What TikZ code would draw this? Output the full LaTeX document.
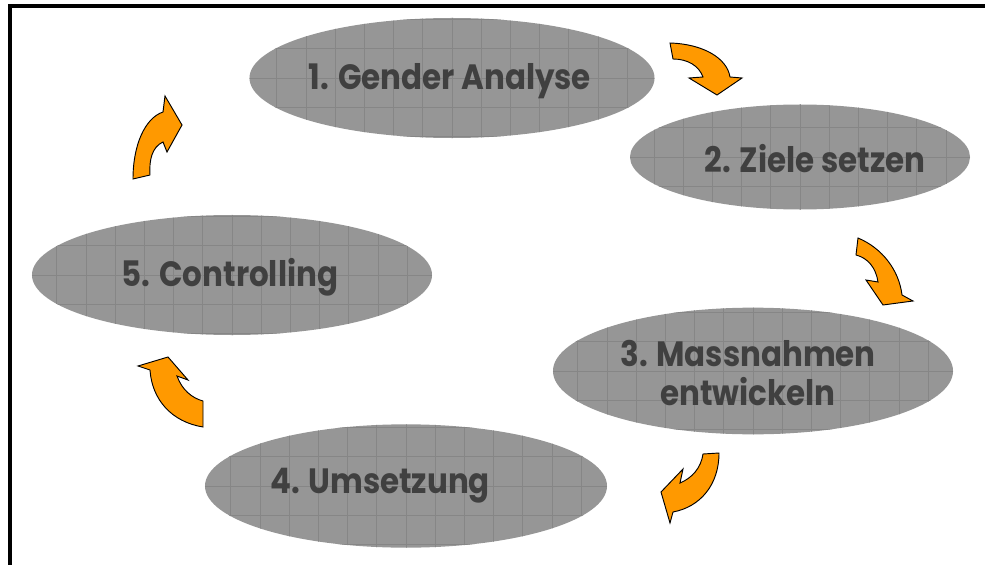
\documentclass[tikz,border=0pt]{standalone}
\usepackage{fontspec}
\setmainfont{Poppins}
\usepackage{xcolor}
\usepackage{tikz}
\usetikzlibrary{shapes.geometric}
\definecolor{phasefill}{RGB}{150,150,150}
\definecolor{phasegrid}{RGB}{134,134,134}
\definecolor{phasetext}{RGB}{64,64,64}
\definecolor{arroworange}{RGB}{255,153,0}

\tikzset{
  phase/.style={ellipse, fill=phasefill, inner sep=0pt,
    path picture={
      \draw[phasegrid, line width=0.7pt, step=0.876cm] (-7.5cm,-3cm) grid (7.5cm,3cm);}},
  phaselabel/.style={text=phasetext, align=center, inner sep=0pt, xscale=0.88,
    font=\bfseries\fontsize{30}{34}\selectfont},
  cyclearrow/.style={fill=arroworange, draw=black, line width=0.8pt, line join=miter}
}

\begin{document}
\begin{tikzpicture}[x=0.03cm, y=-0.03cm]

    \useasboundingbox (0,0) rectangle (985,565);

    %% Frame
    \draw[black, line width=2.6pt] (10,580) -- (10,6) -- (995,6);

    %% --- Phases ---
    \node[phase, minimum width=12.15cm, minimum height=3.6cm] (gender) at (452,78) {};
    \node[phase, minimum width=10.2cm, minimum height=3.15cm] (ziele) at (800,157) {};
    \node[phase, minimum width=12cm, minimum height=3.8cm] (massnahmen) at (753,371) {};
    \node[phase, minimum width=12.06cm, minimum height=3.7cm] (umsetzung) at (406,486) {};
    \node[phase, minimum width=12cm, minimum height=3.6cm] (controlling) at (232,275) {};

    %% Labels
    \node[phaselabel] (genderlabel) at (450,81) {1. Gender Analyse};
    \node[phaselabel] (zielelabel) at (815,159) {2. Ziele setzen};
    \node[phaselabel] (massnahmenlabel) at (748,373) {3. Massnahmen\\entwickeln};
    \node[phaselabel] (umsetzunglabel) at (380,486) {4. Umsetzung};
    \node[phaselabel] (controllinglabel) at (230,277) {5. Controlling};

    %% --- Cycle arrows ---
    % 1 -> 2
    \draw[cyclearrow] (670,43) .. controls (703,44) and (727,58) .. (730,77)
        -- (742,78) -- (717,95) -- (689,78) -- (703,77)
        .. controls (699,66) and (688,59) .. (673,59) -- cycle;
    % 2 -> 3
    \draw[cyclearrow] (858,238) .. controls (882,248) and (899,270) .. (902,295)
        -- (913,301) -- (883,305) -- (866,280) -- (878,282)
        .. controls (876,268) and (868,258) .. (856,255) -- cycle;
    % 3 -> 4
    \draw[cyclearrow] (719,453) .. controls (719,485) and (700,507) .. (673,512)
        -- (670,523) -- (661,492) -- (683,469) -- (680,483)
        .. controls (692,478) and (701,468) .. (703,454) -- cycle;
    % 4 -> 5
    \draw[cyclearrow] (203,427) .. controls (172,422) and (152,400) .. (150,370)
        -- (138,366) -- (168,357) -- (188,380) -- (177,376)
        .. controls (182,390) and (192,398) .. (203,401) -- cycle;
    % 5 -> 1
    \draw[cyclearrow] (133,179) .. controls (133,145) and (145,118) .. (163,112)
        -- (165,96) -- (182,125) -- (167,152) -- (163,142)
        .. controls (152,147) and (149,160) .. (150,175) -- cycle;

\end{tikzpicture}
\end{document}
